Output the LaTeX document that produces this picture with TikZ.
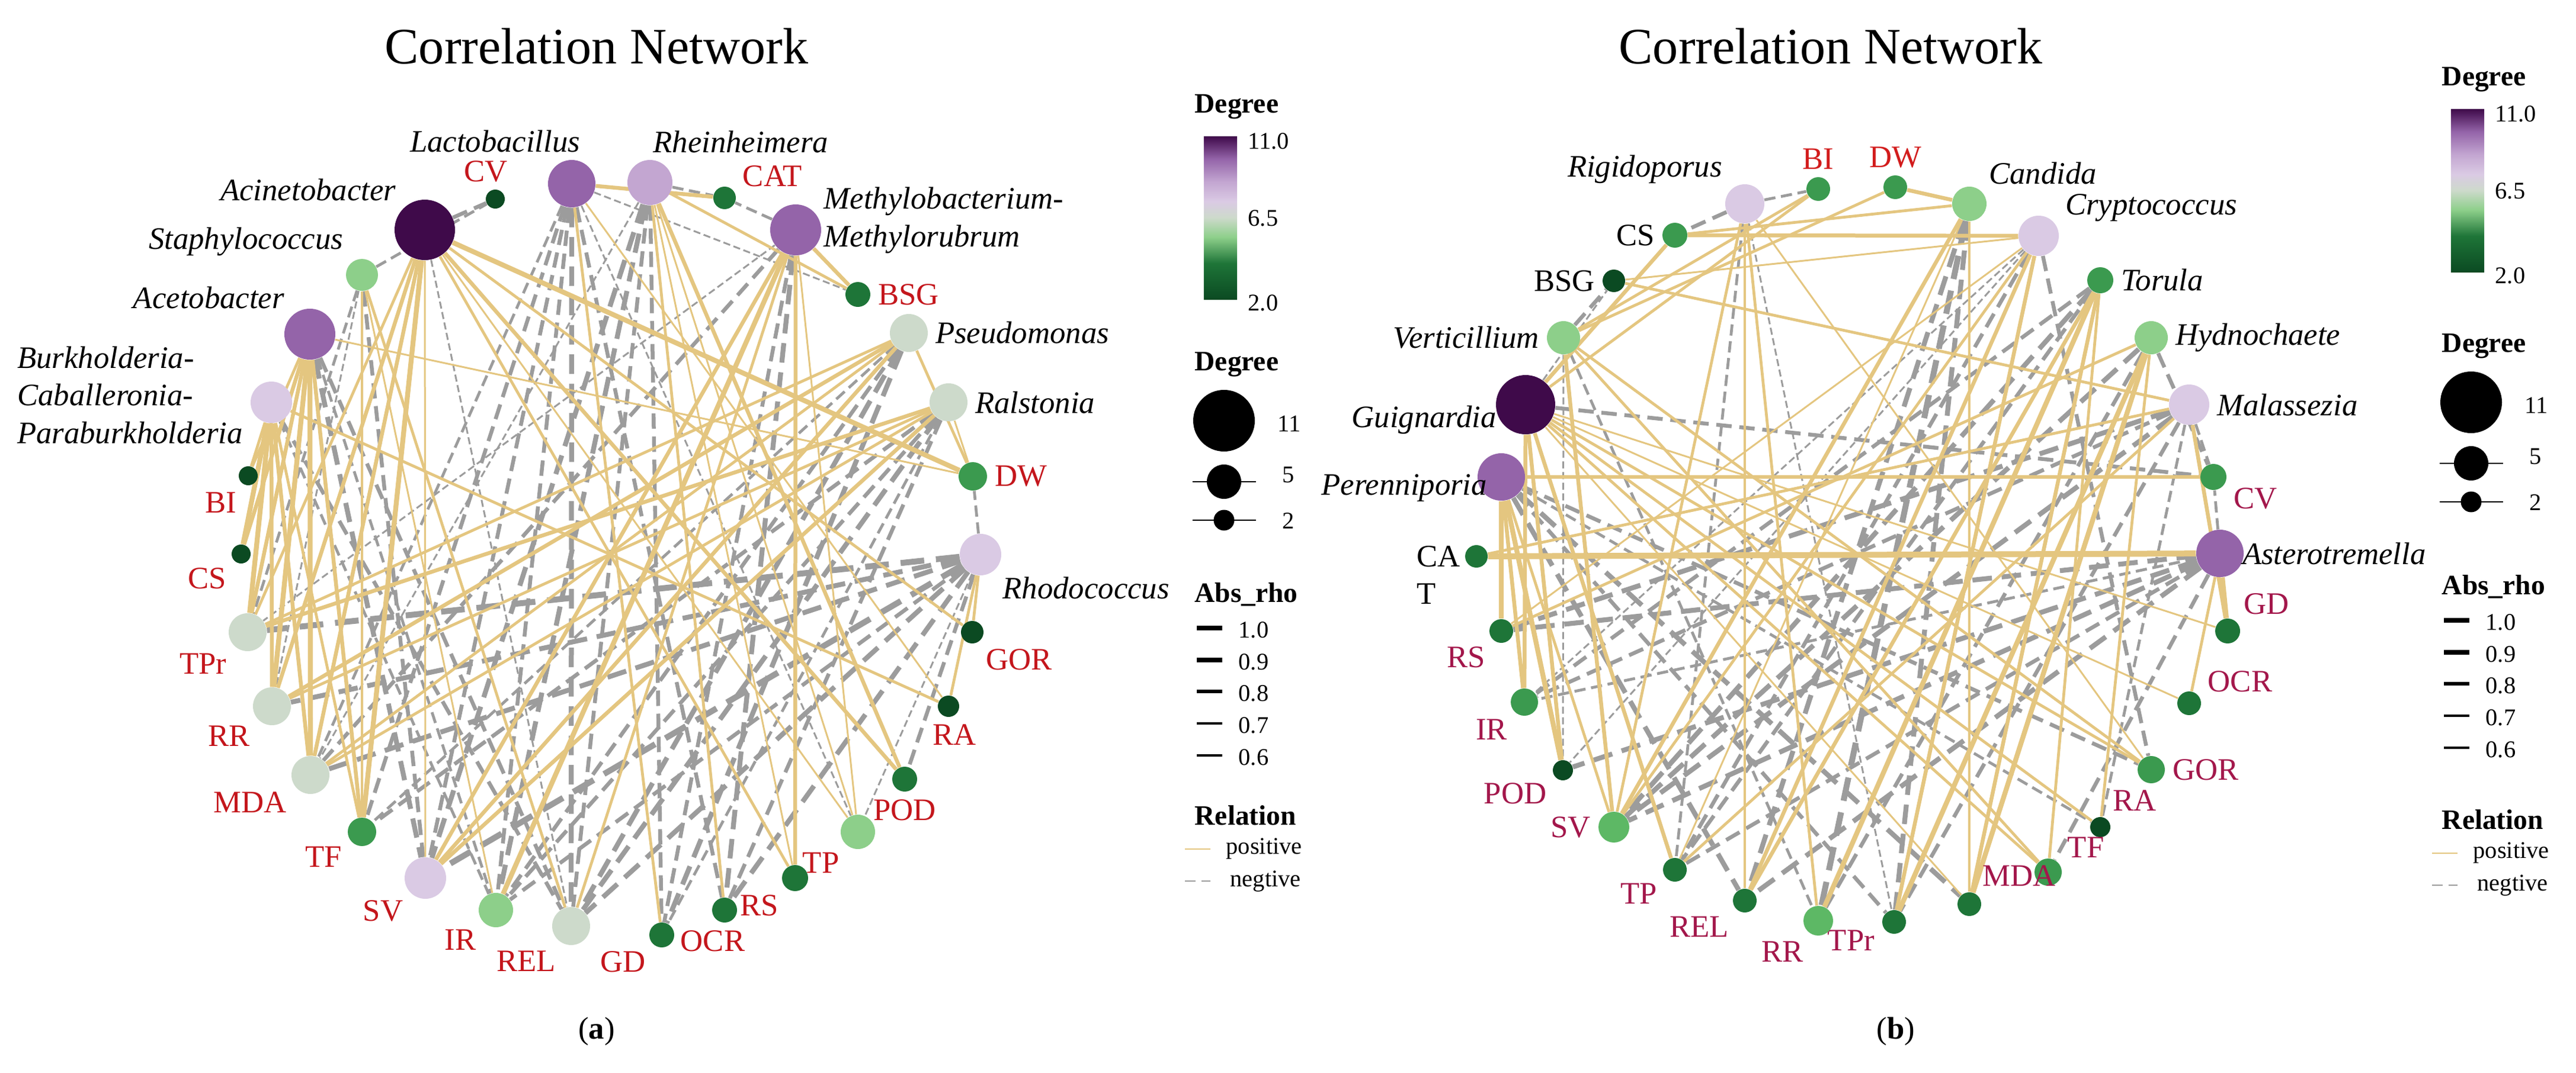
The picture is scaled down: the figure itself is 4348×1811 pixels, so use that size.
\documentclass[tikz,border=0pt]{standalone}
\usepackage{fontspec}
\setmainfont{Liberation Serif}

\definecolor{dA}{HTML}{0B4A22}
\definecolor{dB}{HTML}{1E7538}
\definecolor{dC}{HTML}{3B9A4F}
\definecolor{dCb}{HTML}{5DB865}
\definecolor{dD}{HTML}{8DCF8A}
\definecolor{dE}{HTML}{CDDACB}
\definecolor{dF}{HTML}{DACAE4}
\definecolor{dG}{HTML}{C3A6D1}
\definecolor{dH}{HTML}{9464A9}
\definecolor{dK}{HTML}{3F0A4A}
\definecolor{postan}{HTML}{E4C680}
\definecolor{neggray}{HTML}{9C9C9C}
\definecolor{leftred}{HTML}{C4161C}
\definecolor{rightred}{HTML}{A3174B}
\definecolor{brightred}{HTML}{D21C1C}

\newcommand\labfont{\fontsize{15}{18}\selectfont}
\newcommand\ttlfont{\fontsize{24.5}{29}\selectfont}
\newcommand\legtfont{\fontsize{13.5}{16}\selectfont}
\newcommand\legxfont{\fontsize{11.5}{14}\selectfont}

% the path is mapped onto 25bp--75bp of the shading
\pgfdeclareverticalshading{degbar}{100bp}{color(0bp)=(dA); color(25bp)=(dA);
  color(36bp)=(dB); color(44bp)=(dD); color(50bp)=(dE); color(55bp)=(dF);
  color(61bp)=(dG); color(68bp)=(dH); color(75bp)=(dK); color(100bp)=(dK)}

\pgfdeclarelayer{edgelayer}
\pgfsetlayers{edgelayer,main}

\tikzset{
  vtx/.style 2 args={circle, fill=#1, draw=none, inner sep=0pt, minimum size=#2*0.2mm},
  glab/.style={font=\labfont\itshape, text=black},
  plab/.style={font=\labfont, text=leftred},
  qlab/.style={font=\labfont, text=rightred},
  rlab/.style={font=\labfont, text=brightred},
  klab/.style={font=\labfont, text=black},
  ttl/.style={font=\ttlfont},
  legt/.style={font=\legtfont\bfseries, inner sep=0pt},
  legx/.style={font=\legxfont, inner sep=0pt},
  legdot/.style={circle, fill=black, inner sep=0pt},
  posedge/.style={draw=postan},
  negedge/.style={draw=neggray},
}

% one legend block: #1 prefix, #2 left x, #3 bar top, #4 size title, #5 rho title, #6 relation title
\newcommand\degleg[6]{%
  \node[legt, anchor=west] (#1dt) at (#2,{#3-50}) {Degree};
  \shade[shading=degbar] ({#2+16},#3) rectangle ({#2+72},{#3+275});
  \node[legx, anchor=west] (#1c11) at ({#2+90},{#3+8}) {11.0};
  \node[legx, anchor=west] (#1c65) at ({#2+90},{#3+138}) {6.5};
  \node[legx, anchor=west] (#1c2) at ({#2+90},{#3+281}) {2.0};
  \node[legt, anchor=west] (#1st) at (#2,#4) {Degree};
  \node[legdot, minimum size=10.4mm] (#1s11) at ({#2+50},{#4+95}) {};
  \node[legx] (#1n11) at ({#2+160},{#4+100}) {11};
  \coordinate (#1s5a) at ({#2-3},{#4+198});
  \coordinate (#1s5b) at ({#2+104},{#4+198});
  \draw[line width=0.6pt] (#1s5a) -- (#1s5b);
  \node[legdot, minimum size=5.8mm] (#1s5) at ({#2+50},{#4+198}) {};
  \node[legx] (#1n5) at ({#2+159},{#4+186}) {5};
  \coordinate (#1s2a) at ({#2-3},{#4+263});
  \coordinate (#1s2b) at ({#2+104},{#4+263});
  \draw[line width=0.6pt] (#1s2a) -- (#1s2b);
  \node[legdot, minimum size=3.5mm] (#1s2) at ({#2+50},{#4+263}) {};
  \node[legx] (#1n2) at ({#2+159},{#4+264}) {2};
  \node[legt, anchor=west] (#1rt) at (#2,#5) {Abs\_rho};
  \foreach \yy/\ww/\tt [count=\k] in {57/8.4/1.0, 111/7.2/0.9, 164/6.0/0.8, 218/4.6/0.7, 272/3.2/0.6}{
    \coordinate (#1ra\k) at ({#2+4},{#5+\yy});
    \coordinate (#1rb\k) at ({#2+47},{#5+\yy});
    \draw[line width=\ww*0.2845pt] (#1ra\k) -- (#1rb\k);
    \node[legx, anchor=west] (#1rl\k) at ({#2+74},{#5+\yy+3}) {\tt};
  }
  \node[legt, anchor=west] (#1lt) at (#2,#6) {Relation};
  \coordinate (#1pa) at ({#2-16},{#6+57});
  \coordinate (#1pb) at ({#2+27},{#6+57});
  \draw[postan, line width=0.8pt] (#1pa) -- (#1pb);
  \node[legx, anchor=west] (#1pl) at ({#2+53},{#6+56}) {positive};
  \coordinate (#1na) at ({#2-16},{#6+111});
  \coordinate (#1nb) at ({#2+27},{#6+111});
  \draw[neggray, line width=0.8pt, dash pattern=on 5pt off 3pt] (#1na) -- (#1nb);
  \node[legx, anchor=west] (#1nl) at ({#2+60},{#6+111}) {negtive};
}

\begin{document}
\begin{tikzpicture}[x=0.1mm, y=-0.1mm]
\useasboundingbox (0,0) rectangle (4348,1811);

% titles and captions
\node[ttl] (ttla) at (1007,78) {Correlation Network};
\node[ttl] (ttlb) at (3090,78) {Correlation Network};
\node[klab] (capa) at (1007,1741) {(\textbf{a})};
\node[klab] (capb) at (3200,1741) {(\textbf{b})};

% ---- network (a): bacteria ----
\node[vtx={dK}{51}, label={[glab]135:Acinetobacter}] (aci) at (717,388) {};
\node[vtx={dA}{16}, label={[plab, xshift=-1.6mm]90:CV}] (cv) at (836,336) {};
\node[vtx={dH}{40}, label={[glab, xshift=3mm]95:Lactobacillus}] (lac) at (965,310) {};
\node[vtx={dG}{38}, label={[glab, xshift=-1.5mm]78:Rheinheimera}] (rhe) at (1097,308) {};
\node[vtx={dB}{19}, label={[plab]20:CAT}] (cat) at (1223,334) {};
\node[vtx={dH}{43}, label={[glab, align=left, anchor=west, inner sep=1pt, yshift=1.6mm]east:{Methylobacterium-\\Methylorubrum}}] (met) at (1343,388) {};
\node[vtx={dB}{21}, label={[plab]0:BSG}] (bsg) at (1448,497) {};
\node[vtx={dE}{32}, label={[glab]0:Pseudomonas}] (pse) at (1534,562) {};
\node[vtx={dE}{32}, label={[glab]0:Ralstonia}] (ral) at (1601,679) {};
\node[vtx={dC}{24}, label={[plab]0:DW}] (dw) at (1642,804) {};
\node[vtx={dF}{35}, label={[glab]-45:Rhodococcus}] (rho) at (1655,936) {};
\node[vtx={dA}{19}, label={[plab]-55:GOR}] (gor) at (1641,1067) {};
\node[vtx={dA}{18}, label={[plab, xshift=1mm]-90:RA}] (ra) at (1601,1192) {};
\node[vtx={dB}{21}, label={[plab]-90:POD}] (pod) at (1527,1315) {};
\node[vtx={dD}{29}, label={[plab]-130:TP}] (tp) at (1448,1404) {};
\node[vtx={dB}{22}, label={[plab]-135:RS}] (rs) at (1342,1482) {};
\node[vtx={dB}{21}, label={[plab, xshift=-2mm]-90:OCR}] (ocr) at (1223,1536) {};
\node[vtx={dB}{21}, label={[plab]-135:GD}] (gd) at (1117,1578) {};
\node[vtx={dE}{32}, label={[plab]-115:REL}] (rel) at (964,1563) {};
\node[vtx={dD}{29}, label={[plab]-135:IR}] (ir) at (837,1536) {};
\node[vtx={dF}{35}, label={[plab]-135:SV}] (sv) at (718,1482) {};
\node[vtx={dC}{24}, label={[plab]-150:TF}] (tf) at (611,1404) {};
\node[vtx={dE}{32}, label={[plab]-150:MDA}] (mda) at (524,1308) {};
\node[vtx={dE}{32}, label={[plab]-140:RR}] (rr) at (459,1192) {};
\node[vtx={dE}{32}, label={[plab]-135:TPr}] (tpr) at (418,1067) {};
\node[vtx={dA}{16}, label={[plab]-140:CS}] (cs) at (407,935) {};
\node[vtx={dA}{16}, label={[plab]-115:BI}] (bi) at (419,803) {};
\node[vtx={dF}{35}, label={[glab, align=left, yshift=1.2mm]180:{Burkholderia-\\Caballeronia-\\Paraburkholderia}}] (bur) at (458,679) {};
\node[vtx={dH}{43}, label={[glab]135:Acetobacter}] (ace) at (523,564) {};
\node[vtx={dD}{27}, label={[glab]135:Staphylococcus}] (sta) at (611,464) {};

% ---- network (b): fungi ----
\node[vtx={dF}{33}, label={[glab]140:Rigidoporus}] (rig) at (2945,344) {};
\node[vtx={dC}{20}, label={[rlab]90:BI}] (bi2) at (3069,319) {};
\node[vtx={dC}{20}, label={[rlab]90:DW}] (dw2) at (3199,316) {};
\node[vtx={dD}{29}, label={[glab]45:Candida}] (can) at (3324,344) {};
\node[vtx={dF}{34}, label={[glab]20:Cryptococcus}] (cry) at (3441,398) {};
\node[vtx={dC}{22}, label={[glab]0:Torula}] (tor) at (3545,473) {};
\node[vtx={dD}{28}, label={[glab]0:Hydnochaete}] (hyd) at (3631,570) {};
\node[vtx={dF}{34}, label={[glab]0:Malassezia}] (mal) at (3695,683) {};
\node[vtx={dC}{22}, label={[qlab]-15:CV}] (cv2) at (3736,805) {};
\node[vtx={dH}{40}, label={[glab, label distance=-1.5mm]0:Asterotremella}] (ast) at (3747,934) {};
\node[vtx={dB}{21}, label={[qlab]45:GD}] (gd2) at (3760,1065) {};
\node[vtx={dB}{20}, label={[qlab]20:OCR}] (ocr2) at (3695,1187) {};
\node[vtx={dC}{23}, label={[qlab]0:GOR}] (gor2) at (3631,1299) {};
\node[vtx={dA}{17}, label={[qlab]60:RA}] (ra2) at (3545,1396) {};
\node[vtx={dC}{23}, label={[qlab]30:TF}] (tf2) at (3457,1472) {};
\node[vtx={dB}{20}, label={[qlab]60:MDA}] (mda2) at (3324,1526) {};
\node[vtx={dB}{20}, label={[qlab]185:TPr}] (tpr2) at (3197,1556) {};
\node[vtx={dCb}{25}, label={[qlab]-120:RR}] (rr2) at (3069,1554) {};
\node[vtx={dB}{20}, label={[qlab]-135:REL}] (rel2) at (2945,1520) {};
\node[vtx={dB}{20}, label={[qlab]-150:TP}] (tp2) at (2827,1468) {};
\node[vtx={dCb}{26}, label={[qlab]180:SV}] (sv2) at (2724,1396) {};
\node[vtx={dA}{17}, label={[qlab]-150:POD}] (pod2) at (2638,1300) {};
\node[vtx={dC}{23}, label={[qlab]-135:IR}] (ir2) at (2573,1185) {};
\node[vtx={dB}{20}, label={[qlab]-135:RS}] (rs2) at (2534,1065) {};
\node[vtx={dB}{19}, label={[klab, align=left, anchor=north east, inner sep=2pt, yshift=2.5mm]west:{CA\\T}}] (cat2) at (2492,939) {};
\node[vtx={dH}{40}, label={[glab, label distance=-2.9mm, yshift=-1.9mm]180:Perenniporia}] (per) at (2534,805) {};
\node[vtx={dK}{50}, label={[glab, label distance=-1.4mm, yshift=-2.6mm]180:Guignardia}] (gui) at (2575,683) {};
\node[vtx={dD}{28}, label={[glab]180:Verticillium}] (ver) at (2639,570) {};
\node[vtx={dA}{19}, label={[klab]180:BSG}] (bsg2) at (2724,474) {};
\node[vtx={dC}{21}, label={[klab]180:CS}] (cs2) at (2827,397) {};

% ---- correlations ----
\begin{pgfonlayer}{edgelayer}
\foreach \na/\nb/\rh in {aci/cv/0.8, aci/rel/0.6,
    lac/bsg/0.6, lac/tp/0.6, lac/ir/0.8, lac/rel/0.9, lac/mda/0.7, lac/ocr/0.8, lac/sv/0.8, lac/tf/0.8,
    met/cat/0.7, met/ocr/0.9, met/gd/0.8, met/tpr/0.6, met/mda/0.8,
    ace/ir/0.7, ace/sv/0.9, ace/rel/0.8,
    rhe/cat/0.7, rhe/sv/0.9, rhe/gd/0.8, rhe/rel/0.8, rhe/mda/0.6, rhe/ir/0.9,
    rho/dw/0.7, rho/pod/0.8, rho/ocr/0.9, rho/tp/0.6, rho/sv/1.0, rho/rel/0.9, rho/tpr/1.0, rho/rr/0.9,
    rho/ir/0.8, rho/mda/0.9,
    pse/rel/0.9, pse/ir/0.8, pse/tf/0.7, pse/gd/0.9,
    ral/ir/0.8, ral/rel/0.9, ral/tf/0.8, ral/gd/0.7, ral/ocr/0.8,
    sta/cv/0.7, sta/sv/0.8, sta/tpr/0.7, sta/rr/0.6,
    bur/rel/0.8, bur/ir/0.7,
    rig/cs2/0.8, rig/bi2/0.7, rig/tpr2/0.6, rig/tp2/0.7,
    gui/cv2/0.8, gui/bsg2/0.6,
    per/rel2/0.9, per/mda2/0.9, per/gor2/0.8, per/tpr2/0.8, per/ra2/0.7,
    ast/tf2/0.8, ast/rel2/0.9, ast/sv2/0.9, ast/rs2/0.9, ast/ir2/0.7, ast/tp2/0.8, ast/cv2/0.7, ast/pod2/0.9,
    can/rr2/1.0, can/tpr2/0.9, can/rel2/0.9,
    cry/gor2/0.8, cry/ir2/0.6, cry/pod2/0.6, cry/tp2/0.8,
    mal/rs2/0.9, mal/ir2/0.8, mal/ra2/0.7, mal/cv2/0.7, mal/sv2/0.9, mal/tpr2/0.8,
    hyd/cv2/0.8, hyd/rr2/0.8, hyd/sv2/0.9,
    ver/bsg2/0.8, ver/rr2/0.7, ver/pod2/0.6,
    tor/tp2/0.8, tor/sv2/0.9, tor/ir2/0.8}{
  \pgfmathsetmacro\lw{(3+(\rh-0.6)*17.5)*0.2845}
  \pgfmathsetmacro\don{4*\lw}
  \pgfmathsetmacro\doff{2*\lw}
  \draw[negedge, line width=\lw pt, dash pattern=on \don pt off \doff pt] (\na) -- (\nb);
}
\foreach \na/\nb/\rh in {aci/dw/0.9, aci/pod/0.8, aci/gor/0.7, aci/rs/0.7, aci/tp/0.6, aci/tf/0.9,
    aci/mda/0.8, aci/rr/0.8, aci/tpr/0.7, aci/sv/0.6,
    lac/cat/0.8, lac/gd/0.7, lac/ra/0.6,
    met/bsg/0.8, met/rs/0.8, met/ir/0.9, met/sv/0.8, met/tp/0.6, met/rel/0.7,
    ace/bi/0.7, ace/cs/0.8, ace/tf/0.8, ace/mda/0.9, ace/rr/0.9, ace/tpr/0.8, ace/dw/0.6,
    rhe/bsg/0.7, rhe/pod/0.8, rhe/tp/0.6, rhe/ocr/0.7, rhe/rs/0.6,
    bur/bi/0.7, bur/cs/0.9, bur/tf/0.7, bur/mda/0.8, bur/rr/0.8, bur/tpr/0.9, bur/ra/0.7,
    rho/gor/0.7, rho/ra/0.7,
    pse/dw/0.7, pse/sv/0.8, pse/rr/0.8, pse/mda/0.7, pse/tpr/0.7,
    ral/dw/0.6, ral/sv/0.8, ral/mda/0.7, ral/tpr/0.8, ral/rr/0.7,
    sta/tf/0.7, sta/rel/0.7, sta/ir/0.6,
    gui/cs2/0.8, gui/bi2/0.7, gui/tp2/0.8, gui/pod2/0.8, gui/ir2/0.8, gui/gor2/0.7, gui/tf2/0.7,
    gui/ocr2/0.6, gui/mda2/0.6, gui/ra2/0.7, gui/gd2/0.6,
    per/rs2/0.9, per/ir2/0.8, per/cv2/0.8, per/pod2/0.9, per/sv2/0.7,
    ast/cat2/1.0, ast/gd2/0.9, ast/ocr2/0.7,
    rig/rel2/0.7, rig/rr2/0.7, rig/gor2/0.6, rig/sv2/0.7,
    cry/cs2/0.8, cry/tpr2/0.8, cry/rel2/0.8, cry/sv2/0.7, cry/bsg2/0.6, cry/rs2/0.6,
    mal/bsg2/0.7, mal/gd2/0.8, mal/tp2/0.7, mal/cat2/0.7,
    can/dw2/0.8, can/sv2/0.8, can/tp2/0.6, can/cs2/0.7, can/mda2/0.7,
    hyd/tpr2/0.9, hyd/mda2/0.9, hyd/rs2/0.7, hyd/ra2/0.7,
    ver/dw2/0.7, ver/bi2/0.7, ver/sv2/0.8, ver/tf2/0.7, ver/gor2/0.7,
    tor/mda2/0.8, tor/tf2/0.7, tor/rel2/0.8, tor/rr2/0.9}{
  \pgfmathsetmacro\lw{(3+(\rh-0.6)*17.5)*0.2845}
  \draw[posedge, line width=\lw pt] (\na) -- (\nb);
}
\end{pgfonlayer}

% ---- legends ----
\degleg{la}{2016}{230}{615}{1003}{1376}
\degleg{lb}{4121}{184}{584}{990}{1383}
\end{tikzpicture}
\end{document}
